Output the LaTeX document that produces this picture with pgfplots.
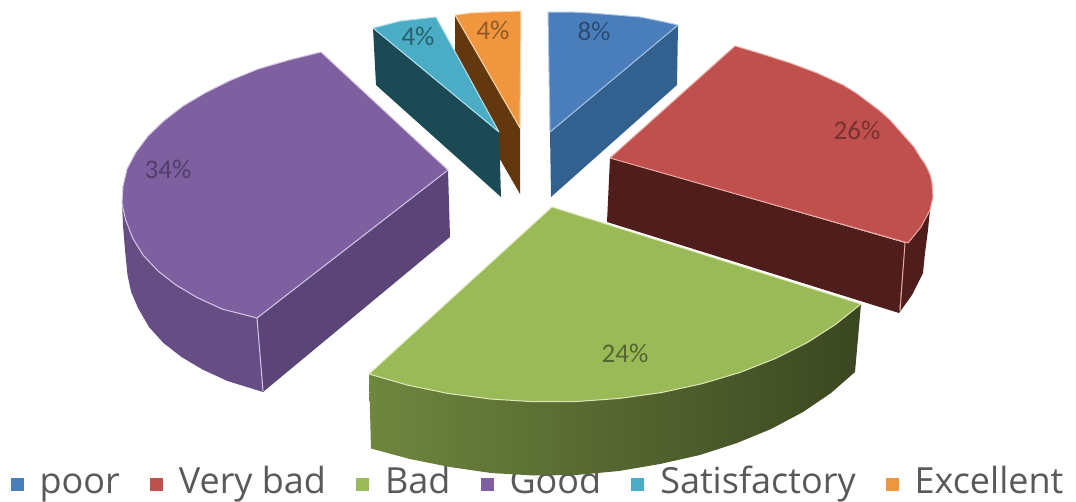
\documentclass[border=0pt]{standalone}
\usepackage{pgfplots}
\pgfplotsset{compat=1.18}
\usepackage{fontspec}
\setmainfont{Open Sans}
\newfontfamily\lab{Carlito}
\definecolor{cB}{HTML}{4A7EBB}\definecolor{cBs}{HTML}{32608F}\definecolor{cBe}{HTML}{A9C4E6}
\definecolor{cR}{HTML}{C0504D}\definecolor{cRs}{HTML}{4F1E1C}\definecolor{cRe}{HTML}{EBA9A6}
\definecolor{cG}{HTML}{9ABA57}\definecolor{cGe}{HTML}{DDE8B8}
\definecolor{cP}{HTML}{7E60A0}\definecolor{cPs}{HTML}{5B4478}\definecolor{cPl}{HTML}{664E84}\definecolor{cPe}{HTML}{D5C7E6}
\definecolor{cC}{HTML}{4AACC5}\definecolor{cCs}{HTML}{1B4A55}\definecolor{cCe}{HTML}{B5E2EE}
\definecolor{cO}{HTML}{F0963F}\definecolor{cOs}{HTML}{63380F}\definecolor{cOe}{HTML}{FBD9B0}
\pgfplotsset{pix/.style={width=1076pt,height=501pt,scale only axis,hide axis,
  xmin=0,xmax=1076,ymin=0,ymax=501,y dir=reverse,clip=true},
  top/.style={fill=#1,draw=#1e,line width=1pt,line join=round},
  side/.style={fill=#1,draw=none}}
\begin{document}
\begin{tikzpicture}
\path[use as bounding box] (0,0) rectangle (1076pt,501pt);
% legend, underneath the pie
\begin{axis}[pix,at={(0,0)},anchor=south west,
  legend columns=6,
  legend cell align=left,
  legend style={at={(0.5,0.032)},anchor=center,draw=none,fill=none,
    font=\fontsize{36}{40}\selectfont,text=black!65,inner sep=0pt,
    nodes={text height=27pt,text depth=9pt},
    /tikz/every even column/.append style={column sep=28pt},
    /tikz/every odd column/.append style={column sep=14pt}},
  legend image code/.code={\path[#1] (0pt,-6.5pt) rectangle (13pt,6.5pt);}]
\addlegendimage{fill=cB,draw=none}\addlegendentry{poor}
\addlegendimage{fill=cR,draw=none}\addlegendentry{Very bad}
\addlegendimage{fill=cG,draw=none}\addlegendentry{Bad}
\addlegendimage{fill=cP,draw=none}\addlegendentry{Good}
\addlegendimage{fill=cC,draw=none}\addlegendentry{Satisfactory}
\addlegendimage{fill=cO,draw=none}\addlegendentry{Excellent}
\end{axis}
\begin{axis}[pix,at={(0,0)},anchor=south west]
% Blue
\addplot[side=cBs] coordinates {(678,25)(550,132)(551,197)(677,85)} --cycle;
\addplot[top=cB] coordinates {(548,12)(570,12)(590,13)(615,15)(640,17)(660,21)(678,25)(550,132)} --cycle;
% Orange
\addplot[side=cOs] coordinates {(455,15)(520,128)(520,194)(455,81)} --cycle;
\addplot[top=cO] coordinates {(455,15)(470,13)(490,12)(521,11)(520,128)} --cycle;
% Cyan
\addplot[side=cCs] coordinates {(373,28)(499,132)(501,197)(376,85)} --cycle;
\addplot[top=cC] coordinates {(373,28)(385,25)(400,21)(418,19)(436,17)(499,132)} --cycle;
% Red
\addplot[side=cRs] coordinates {(610,158)(905,243)(899,313)(607,222)} --cycle;
\addplot[side=cRs] coordinates {(905,243)(930,210)(928,230)(925,253)(923,273)(912,295)(899,313)} --cycle;
\addplot[top=cR] coordinates {(610,158)(735,46)(762,54)(790,63)(817,73)(843,85)(856,93)(868,102)(880,111)(890,120)(906,138)(914,147)(920,157)(925,164)(928,170)(930.5,176)(932,183)(933,197)(930,210)(921,227)(908,243)} --cycle;
\addplot[cRe,line width=1pt] coordinates {(905,243)(900,311)};
% Purple
\addplot[side=cPs] coordinates {(257,318)(448,170)(450,237)(263,392)} --cycle;
\addplot[side=cPl] coordinates {(122,203)(123,225)(125,250)(127.5,275)(131,291.5)(138,308)(149,327)(163.5,343)(181.5,357)(202.5,369.5)(227.5,381)(263,392)(257,318)(222,309)(197,297.5)(176,285)(158,271)(143,255)(132.6,238)(125.5,219.5)} --cycle;
\addplot[top=cP] coordinates {(448,170)(321,52)(289,60)(258,69)(230,80.5)(205,93)(183,106)(163.6,121)(148,136)(136,152)(127,169)(123,186)(122,203)(125.5,219.5)(132.6,238)(143,255)(158,271)(176,285)(197,297.5)(222,309)(257,318)} --cycle;
\addplot[cPe,line width=1pt] coordinates {(257,318)(263,391)};
% Green
\addplot[left color=cG!72!black,middle color=cG!50!black,right color=cG!38!black,draw=none] coordinates {(861,304)(835.5,324.4)(807.4,342.5)(775.4,358.5)(740.1,372.4)(702,383.7)(661.7,392.5)(619.7,398.4)(576.8,401.5)(533.4,401.7)(490.4,399)(448.2,393.5)(407.6,385.1)(369,374)(371,448.5)(410,459)(450,467)(491,473)(534,475.5)(576,475)(619,471)(660,464)(699.8,455)(737,443)(771,429)(803,412)(831,393)(855,372)} --cycle;
\addplot[top=cG] coordinates {(552,207)(861,304)(835.5,324.4)(807.4,342.5)(775.4,358.5)(740.1,372.4)(702,383.7)(661.7,392.5)(619.7,398.4)(576.8,401.5)(533.4,401.7)(490.4,399)(448.2,393.5)(407.6,385.1)(369,374)} --cycle;
% Labels
\node[font=\lab\fontsize{27}{29}\selectfont,text=cB!60!black] at (axis cs:594,31) {8\%};
\node[font=\lab\fontsize{27}{29}\selectfont,text=cR!62!black] at (axis cs:857,130) {26\%};
\node[font=\lab\fontsize{27}{29}\selectfont,text=cG!55!black] at (axis cs:625,353) {24\%};
\node[font=\lab\fontsize{27}{29}\selectfont,text=cP!65!black] at (axis cs:168,169) {34\%};
\node[font=\lab\fontsize{27}{29}\selectfont,text=cC!55!black] at (axis cs:418,36) {4\%};
\node[font=\lab\fontsize{27}{29}\selectfont,text=cO!60!black] at (axis cs:493,30) {4\%};
\end{axis}
\end{tikzpicture}
\end{document}
